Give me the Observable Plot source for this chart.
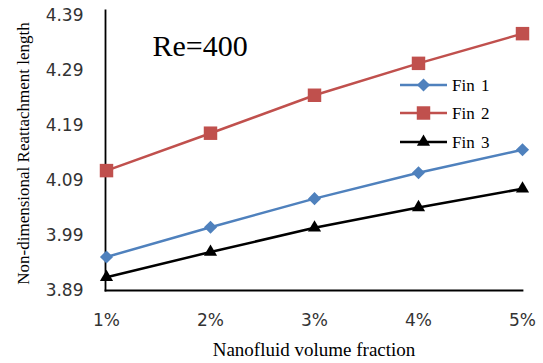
<!DOCTYPE html>
<html><head><meta charset="utf-8">
<script src="https://cdn.jsdelivr.net/npm/d3@7"></script>
<script src="https://cdn.jsdelivr.net/npm/@observablehq/plot@0.6"></script>
<style>body{margin:0;background:#fff}</style>
</head><body><div id="chart"></div>
<script>
const fractions = ["1%", "2%", "3%", "4%", "5%"];
const fin1 = [3.951, 4.005, 4.057, 4.104, 4.146];
const fin2 = [4.108, 4.176, 4.245, 4.303, 4.357];
const fin3 = [3.914, 3.960, 4.004, 4.041, 4.075];
const seriesNames = ["Fin 1", "Fin 2", "Fin 3"];
const seriesValues = [fin1, fin2, fin3];
const seriesColors = ["#4f81bd", "#c0504d", "#000000"];
const seriesSymbols = ["diamond2", "square", "triangle"];
const seriesR = [5.9, 7.6, 4.9];
const yTicks = [3.89, 3.99, 4.09, 4.19, 4.29, 4.39];
const titleText = "Re=400";
const xLabel = "Nanofluid volume fraction";
const yLabel = "Non-dimensional Reattachment length";

const d3Sym = {diamond2: d3.symbolDiamond2, square: d3.symbolSquare, triangle: d3.symbolTriangle};

const marks = [];
seriesNames.forEach((name, i) => {
  const rows = fractions.map((f, j) => ({fraction: f, value: seriesValues[i][j], series: name}));
  marks.push(Plot.line(rows, {x: "fraction", y: "value", stroke: seriesColors[i], strokeWidth: 2.5}));
  marks.push(Plot.dot(rows, {x: "fraction", y: "value", symbol: () => seriesSymbols[i], r: seriesR[i], fill: seriesColors[i], stroke: "none"}));
});

function legend(index, scales, values, dims) {
  const g = d3.create("svg:g");
  const x0 = 400, x1 = 447, tx = 452, ys = [85, 113, 142];
  seriesNames.forEach((name, i) => {
    const y = ys[i];
    g.append("line").attr("x1", x0).attr("x2", x1).attr("y1", y).attr("y2", y)
      .attr("stroke", seriesColors[i]).attr("stroke-width", 2.5);
    g.append("path").attr("transform", `translate(${(x0 + x1) / 2},${y})`)
      .attr("d", d3.symbol(d3Sym[seriesSymbols[i]], Math.PI * seriesR[i] * seriesR[i])())
      .attr("fill", seriesColors[i]);
    g.append("text").attr("x", tx).attr("y", y).attr("dy", "0.35em")
      .attr("text-anchor", "start")
      .attr("font-family", "Liberation Serif").attr("font-size", 17).attr("fill", "#000")
      .attr("word-spacing", 2)
      .text(name);
  });
  return g.node();
}

const chart = Plot.plot({
  width: 543,
  height: 363,
  marginLeft: 105,
  marginRight: 21,
  marginTop: 10,
  marginBottom: 73,
  style: {background: "#fff", overflow: "visible"},
  x: {type: "point", domain: fractions, padding: 0},
  y: {domain: [3.89, 4.39], range: [290, 15]},
  marks: [
    Plot.axisY({ticks: yTicks, tickSize: 0, tickPadding: 22, tickFormat: d3.format(".2f"), label: null,
      fontSize: 17, fontFamily: "DejaVu Sans", fill: "#333"}),
    Plot.axisX({tickSize: 0, tickPadding: 23, label: null, fontSize: 17, fontFamily: "DejaVu Sans", fill: "#333"}),
    Plot.frame({anchor: "left", stroke: "#000", strokeWidth: 1.8}),
    Plot.frame({anchor: "bottom", stroke: "#000", strokeWidth: 1.8}),
    ...marks,
    Plot.text([titleText], {frameAnchor: "top-left", dx: 47, dy: 36, textAnchor: "start", lineAnchor: "middle",
      fontSize: 30, fontFamily: "Liberation Serif", fill: "#000"}),
    Plot.text([xLabel], {frameAnchor: "bottom", dy: 59, textAnchor: "middle", lineAnchor: "middle", fontSize: 19,
      fontFamily: "Liberation Serif", fill: "#000", wordSpacing: 6}),
    Plot.text([yLabel], {frameAnchor: "left", dx: -82, dy: 3, rotate: -90, textAnchor: "middle", lineAnchor: "middle", fontSize: 17,
      fontFamily: "Liberation Serif", fill: "#000"}),
    legend
  ]
});
document.getElementById("chart").appendChild(chart);
</script>
</body></html>
